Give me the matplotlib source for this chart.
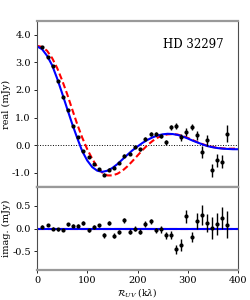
import numpy as np
import matplotlib
matplotlib.use("Agg")
import matplotlib.pyplot as plt

plt.rcParams['font.family'] = ['DejaVu Serif']
plt.rcParams['mathtext.fontset'] = 'dejavuserif'

# binned visibilities
uv_dist = [10, 21, 31, 41, 51, 62, 72, 82, 92, 103, 113, 123, 133, 144, 154, 164, 174, 185, 195,
           205, 215, 226, 236, 246, 256, 267, 277, 287, 297, 308, 318, 328, 338, 349, 359, 369, 379]
real_vals = [3.55, 3.20, 2.87, 2.33, 1.76, 1.28, 0.71, 0.30, -0.21, -0.44, -0.69, -0.87, -1.07,
             -0.89, -0.82, -0.65, -0.39, -0.32, -0.07, -0.15, 0.22, 0.40, 0.40, 0.33, 0.10,
             0.64, 0.70, 0.28, 0.47, 0.64, 0.35, -0.25, 0.17, -0.92, -0.55, -0.60, 0.42]
imag_vals = [0.04, 0.08, 0.00, -0.02, -0.03, 0.09, 0.06, 0.06, 0.12, -0.04, 0.03, 0.07, -0.15,
             0.12, -0.16, -0.08, 0.18, -0.07, 0.00, -0.07, 0.10, 0.16, -0.04, -0.02, -0.15,
             -0.15, -0.46, -0.37, 0.27, -0.18, 0.17, 0.29, 0.13, 0.01, 0.10, 0.24, 0.08]
errs = [0.03, 0.03, 0.03, 0.03, 0.03, 0.03, 0.03, 0.03, 0.04, 0.04, 0.04, 0.04, 0.05,
        0.05, 0.05, 0.05, 0.05, 0.05, 0.05, 0.05, 0.06, 0.06, 0.06, 0.07, 0.08,
        0.09, 0.10, 0.13, 0.15, 0.11, 0.17, 0.22, 0.20, 0.24, 0.24, 0.24, 0.30]

model_uv = np.arange(0, 401, 10)
model_blue = [3.58, 3.48, 3.24, 2.90, 2.42, 1.88, 1.32, 0.77, 0.26, -0.22, -0.56, -0.80, -0.93,
              -0.97, -0.93, -0.83, -0.69, -0.52, -0.35, -0.19, -0.05, 0.08, 0.19, 0.28, 0.35,
              0.39, 0.41, 0.40, 0.37, 0.31, 0.24, 0.16, 0.09, 0.02, -0.04, -0.08, -0.11, -0.13,
              -0.14, -0.15, -0.15]
model_red = [3.60, 3.56, 3.42, 3.16, 2.80, 2.35, 1.85, 1.30, 0.76, 0.27, -0.15, -0.50, -0.80,
             -1.00, -1.10, -1.10, -1.04, -0.93, -0.77, -0.58, -0.38, -0.18, 0.00, 0.15, 0.27,
             0.35, 0.39, 0.40, 0.38, 0.33, 0.26, 0.18, 0.10, 0.03, -0.03, -0.07, -0.10, -0.12,
             -0.13, -0.13, -0.13]
model_imag = [0.0] * len(model_uv)

fig, (ax1, ax2) = plt.subplots(2, 1, figsize=(2.5, 3.0), dpi=100, sharex=True,
                               gridspec_kw={'height_ratios': [2, 1], 'hspace': 0})
fig.subplots_adjust(left=0.148, right=0.952, top=0.93, bottom=0.1)

for ax in (ax1, ax2):
    for side in ('top', 'bottom'):
        ax.spines[side].set_color('0.6')
        ax.spines[side].set_linewidth(1.6)
    for side in ('left', 'right'):
        ax.spines[side].set_color('0.3')
        ax.spines[side].set_linewidth(0.8)
    ax.tick_params(labelsize=7, length=2.5, width=0.6, pad=2)

# real part
ax1.axhline(0, color='k', ls=':', lw=0.7)
ax1.plot(model_uv, model_red, color='red', ls='--', lw=1.5, dashes=(3, 1.5))
ax1.plot(model_uv, model_blue, color='blue', lw=1.5)
ax1.errorbar(uv_dist, real_vals, yerr=errs, fmt='o', color='k', ms=2, elinewidth=1, capsize=0)
ax1.set_ylim(-1.52, 4.5)
ax1.set_yticks([-1, 0, 1, 2, 3, 4])
ax1.set_yticklabels(['-1.0', '0.0', '1.0', '2.0', '3.0', '4.0'])
ax1.set_ylabel('real (mJy)', fontsize=7)
ax1.yaxis.set_label_coords(-0.13, 0.5)
ax1.text(0.93, 0.86, 'HD 32297', transform=ax1.transAxes, ha='right', va='center', fontsize=8.5)
ax1.tick_params(labelbottom=False, bottom=False)

# imaginary part
ax2.plot(model_uv, model_imag, color='red', ls='--', lw=1.5)
ax2.plot(model_uv, model_imag, color='blue', lw=1.5)
ax2.errorbar(uv_dist, imag_vals, yerr=errs, fmt='o', color='k', ms=2, elinewidth=1, capsize=0)
ax2.set_ylim(-0.92, 0.92)
ax2.set_yticks([-0.5, 0, 0.5])
ax2.set_yticklabels(['-0.5', '0.0', '0.5'])
ax2.set_ylabel('imag. (mJy)', fontsize=7)
ax2.yaxis.set_label_coords(-0.13, 0.5)
ax2.set_xlim(0, 400)
ax2.set_xticks([0, 100, 200, 300, 400])
ax2.set_xlabel(r'$\mathcal{R}_{UV}$ (k$\lambda$)', fontsize=6.5, va='center')
ax2.xaxis.set_label_coords(0.5, -0.27)

fig.savefig('out.png', dpi=100)
